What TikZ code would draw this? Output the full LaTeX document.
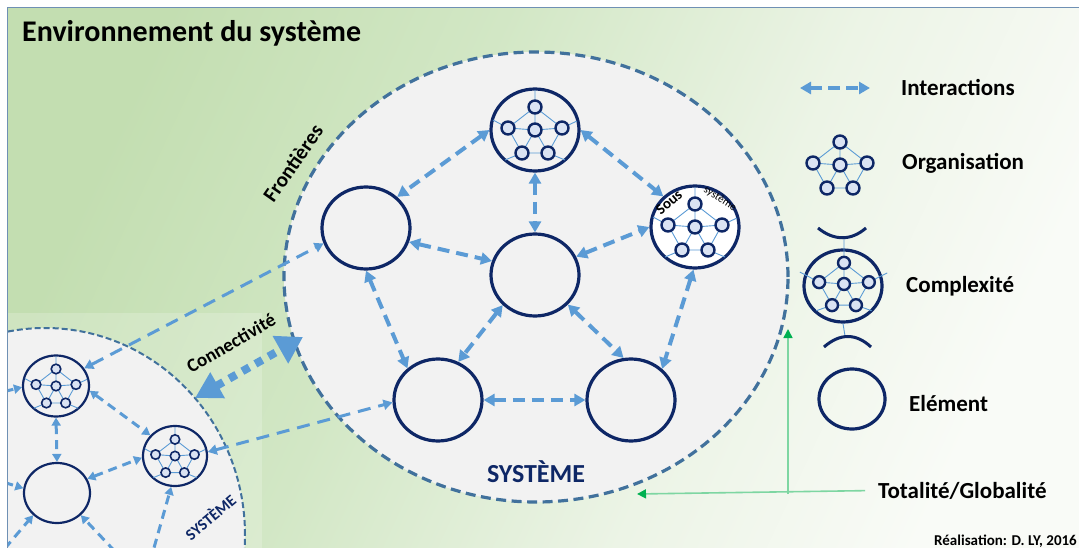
\documentclass[tikz,border=0pt]{standalone}
\usepackage{fontspec}
\setmainfont{Carlito}
\usetikzlibrary{shapes.geometric,arrows.meta}
\definecolor{navy}{HTML}{0E2766}
\definecolor{lblue}{HTML}{5B9BD5}
\definecolor{bord}{HTML}{41719C}
\definecolor{sysfill}{HTML}{F2F2F2}
\definecolor{dotfill}{HTML}{DAE3F3}
\definecolor{gline}{HTML}{7ED6A2}
\definecolor{garrow}{HTML}{00B050}
\definecolor{frame}{HTML}{6F90B4}
\definecolor{envA}{HTML}{C3DEB1}
\definecolor{envB}{HTML}{D2E7C5}
\definecolor{envC}{HTML}{ECF4E6}
\definecolor{envD}{HTML}{F9FBF7}
\pgfdeclarehorizontalshading{envsh}{100bp}{color(0bp)=(envA); color(25bp)=(envA); color(42bp)=(envB); color(60bp)=(envC); color(75bp)=(envD); color(100bp)=(envD)}
\newcommand\orgdots[4]{%
\begin{scope}[shift={(#1,#2)},scale=#3]
 \coordinate (dT) at (0,-23); \coordinate (dL) at (-27,-2); \coordinate (dC) at (0,0);
 \coordinate (dR) at (27,-2); \coordinate (dBa) at (-13,23); \coordinate (dBb) at (13,23);
 \draw[lblue, line width=0.9pt] (dT)--(dR)--(dBb)--(dBa)--(dL)--cycle
   (dC)--(dT) (dC)--(dL) (dC)--(dR) (dC)--(dBa) (dC)--(dBb);
 \foreach \p in {dT,dL,dC,dR,dBa,dBb} \draw[navy, fill=dotfill, line width=#4] (\p) circle[radius=6.5];
\end{scope}}
\newcommand\orgspokes[3]{%
\begin{scope}[shift={(#1,#2)},scale=#3]
 \draw[lblue, line width=0.9pt] (0,-23)--(0,-40) (-27,-2)--(-42,-10) (27,-2)--(42,-9)
   (-13,23)--(-30,30) (13,23)--(30,30);
\end{scope}}
\begin{document}
\begin{tikzpicture}[x=1pt,y=-1pt,
  elem/.style={ellipse, draw=navy, line width=3.2pt, minimum width=88pt, minimum height=82pt, inner sep=0pt},
  selem/.style={ellipse, draw=navy, line width=2.2pt, minimum width=64pt, minimum height=60pt, inner sep=0pt},
  inter/.style={lblue, line width=4pt, dash pattern=on 12pt off 7pt, {Triangle[length=11pt,width=12pt]}-{Triangle[length=11pt,width=12pt]}},
  sinter/.style={lblue, line width=3pt, dash pattern=on 9pt off 6pt, {Triangle[length=8pt,width=9pt]}-{Triangle[length=8pt,width=9pt]}},
  sone/.style={lblue, line width=3pt, dash pattern=on 9pt off 6pt, -{Triangle[length=8pt,width=9pt]}},
  ext/.style={lblue, line width=3pt, dash pattern=on 13pt off 8pt, {Triangle[length=9pt,width=10pt]}-{Triangle[length=9pt,width=10pt]}},
  lab/.style={font=\bfseries\fontsize{23}{26}\selectfont, inner sep=0pt, anchor=base west},
  garr/.style={gline, line width=1.6pt, -{Triangle[length=9pt,width=9pt,color=garrow]}}
]
\useasboundingbox (0,0) rectangle (1079,548);
\fill[white] (0,0) rectangle (1079,548);
\shade[shading=envsh, shading angle=-25] (7.5,7.5) rectangle (1079,548);
\draw[frame, line width=1.6pt] (1079,7.5) -- (7.5,7.5) -- (7.5,548);

\node[font=\bfseries\fontsize{30}{32}\selectfont, inner sep=0pt, anchor=base west] (title) at (22,42) {Environnement du système};

% main system
\node[ellipse, draw=bord, fill=sysfill, line width=3.2pt, dash pattern=on 10pt off 5.5pt, minimum width=504pt, minimum height=450pt] (sys) at (536,277) {};
\node[font=\bfseries\fontsize{21}{24}\selectfont, rotate=55, inner sep=0pt] (fr) at (293,163) {Frontières};
\node[font=\bfseries\fontsize{26}{28}\selectfont, text=navy, inner sep=0pt, anchor=base] (systxt) at (536,482) {SYSTÈME};

% small system
\begin{scope}
\clip (8,0) rectangle (1079,548);
\fill[white, opacity=0.2] (8,313) rectangle (262,548);
\node[ellipse, draw=bord, fill=sysfill, line width=2pt, dash pattern=on 6pt off 3pt, minimum width=400pt, minimum height=414pt] (ssys) at (45,535) {};
\node[selem, minimum width=66pt, minimum height=61pt] (so1) at (56,386) {};
\node[selem] (so2) at (175,456) {};
\node[selem, minimum width=66pt] (se) at (57,493) {};
\orgspokes{56}{386}{0.74}
\orgdots{56}{386}{0.74}{1.6pt}
\orgspokes{175}{456}{0.72}
\orgdots{175}{456}{0.72}{1.6pt}
\node[font=\bfseries\fontsize{16}{18}\selectfont, text=navy, rotate=40, inner sep=0pt] (ssyst) at (210,517) {SYSTÈME};
\draw[sinter] (so1.south) -- (se.north);
\draw[sinter] (so1.-8) -- (so2.140);
\draw[sinter] (se.25) -- (so2.183);
\coordinate (f1) at (150,562);
\coordinate (f2) at (125,562);
\coordinate (f3) at (-5,560);
\coordinate (f4) at (-10,478);
\coordinate (f5) at (-10,395);
\draw[sone] (f1) -- (so2.-97);
\draw[sone] (f2) -- (se.-43);
\draw[sone] (f3) -- (se.-137);
\draw[sone] (f4) -- (se.172);
\draw[sone] (f5) -- (so1.182);
\end{scope}

% main elements
\node[elem, fill=sysfill] (orgt) at (535,130) {};
\node[elem, fill=white] (orgs) at (695,227) {};
\node[elem] (ul) at (366,228) {};
\node[elem] (ctr) at (535,275) {};
\node[elem] (ll) at (438,400) {};
\node[elem] (lr) at (631,400) {};
\orgspokes{535}{130}{1}
\orgdots{535}{130}{1}{2.4pt}
\orgspokes{695}{227}{1}
\orgdots{695}{227}{1}{2.4pt}
\node[font=\bfseries\fontsize{15}{16}\selectfont, rotate=40, inner sep=0pt] (sous) at (669,202) {Sous};
\node[font=\fontsize{11}{12}\selectfont, rotate=-33, inner sep=0pt] (sst) at (720,199) {système};

% interactions
\draw[inter] (orgt.180) -- (ul.45);
\draw[inter] (orgt.0) -- (orgs.136);
\draw[inter] (orgt.south) -- (ctr.north);
\draw[inter] (ul.-18) -- (ctr.162);
\draw[inter] (ctr.24) -- (orgs.180);
\draw[inter] (ul.south) -- (ll.134);
\draw[inter] (ctr.-137) -- (ll.62);
\draw[inter] (ctr.-42) -- (lr.100);
\draw[inter] (orgs.-92) -- (lr.45);
\draw[inter] (ll.east) -- (lr.west);

% external links
\draw[ext] (so1.32) -- (ul.200);
\draw[ext] (so2.7) -- (ll.183);

% connectivity
\coordinate (ca) at (195,398);
\coordinate (cb) at (303,337);
\draw[lblue, line width=8pt, dash pattern=on 8pt off 7pt, {Triangle[length=26pt,width=28pt]}-{Triangle[length=26pt,width=30pt]}] (ca) -- (cb);
\node[font=\bfseries\fontsize{19}{22}\selectfont, rotate=30, inner sep=0pt] (con) at (231,343) {Connectivité};

% legend
\coordinate (la) at (800,88);
\coordinate (lb) at (870,88);
\draw[lblue, line width=4pt, dash pattern=on 12pt off 6pt, {Triangle[length=11pt,width=12pt]}-{Triangle[length=11pt,width=12pt]}] (la) -- (lb);
\node[lab] (lint) at (901,96) {Interactions};
\orgdots{840}{165}{1}{2.4pt}
\node[lab] (lorg) at (902,170) {Organisation};

\node[ellipse, draw=navy, line width=3.2pt, minimum width=78pt, minimum height=72pt, inner sep=0pt] (cx) at (843,286) {};
\begin{scope}[shift={(844,284)},scale=0.92]
 \draw[lblue, line width=0.9pt] (0,-23)--(0,-50) (-27,-2)--(-48,-13) (27,-2)--(47,-12) (-13,23)--(-30,29) (13,23)--(30,29);
\end{scope}
\orgdots{844}{284}{0.92}{2.4pt}
\coordinate (arcb) at (845,336);
\draw[lblue, line width=0.9pt] (cx.south) -- (arcb);
\draw[navy, line width=3pt] (818,228) .. controls (834,241) and (851,241) .. (866,228);
\draw[navy, line width=3pt] (824,347) .. controls (840,333) and (856,333) .. (871,347);
\node[lab] (lcx) at (906,292) {Complexité};

\node[ellipse, draw=navy, line width=3.2pt, minimum width=66pt, minimum height=60pt, inner sep=0pt] (lel) at (852,399) {};
\node[lab] (lelt) at (909,411) {Elément};

\node[lab] (tot) at (878,498) {Totalité/Globalité};
\coordinate (gA) at (637,494);
\coordinate (g1) at (788,494);
\coordinate (gB) at (788,329);
\draw[garr, shorten <=13pt] (tot.west) -- (gA);
\draw[garr] (g1) -- (gB);

\node[font=\bfseries\fontsize{15}{16}\selectfont, inner sep=0pt, anchor=base east] (foot) at (1077,545) {Réalisation: D. LY, 2016};
\end{tikzpicture}
\end{document}
